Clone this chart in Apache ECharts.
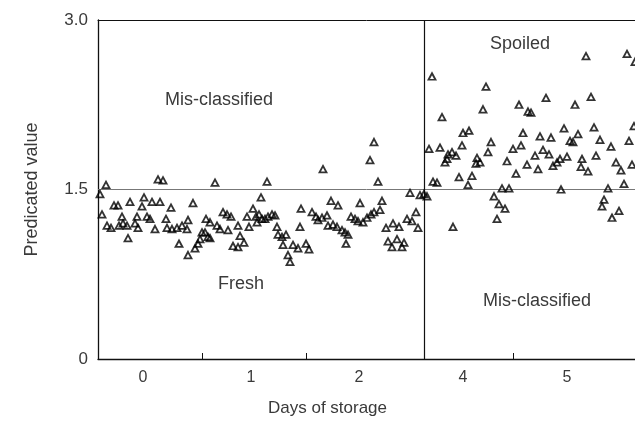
<!DOCTYPE html>
<html>
<head>
<meta charset="utf-8">
<script src="https://cdn.jsdelivr.net/npm/echarts@6/dist/echarts.min.js"></script>
<style>
html,body{margin:0;padding:0;background:#fff;}
#chart{width:635px;height:422px;}
</style>
</head>
<body>
<div id="chart"></div>
<script>
// Sample position along the storage sequence (x) and predicted value (y)
var freshSidePoints = [
[1,1.46],[4,1.54],[30,1.59],[32.5,1.58],[8,1.36],[10,1.36],[16,1.39],[23,1.43],[22,1.35],[27,1.39],[31,1.39],[36.5,1.34],[2,1.28],[12,1.26],[19.5,1.26],[24.5,1.26],[26,1.24],[34,1.24],[4.5,1.18],[6.5,1.16],[10.5,1.18],[12.5,1.20],[14.5,1.18],[18.5,1.20],[20,1.16],[28.5,1.15],[34.5,1.16],[37,1.15],[39.5,1.16],[42,1.18],[15,1.07],[40.5,1.02],[47.5,1.38],
[58.5,1.56],[84.5,1.57],[81.5,1.43],[45,1.23],[44.5,1.15],[54,1.24],[56,1.21],[59.5,1.18],[61,1.15],[65,1.14],[62.5,1.30],[64.5,1.28],[66.5,1.26],[70,1.18],[52,1.12],[53.5,1.12],[55,1.08],[56,1.07],[51,1.06],[50,1.02],[48.5,0.98],[45,0.92],[71,1.09],[73,1.03],[67.5,1.00],[70,0.99],[74.5,1.26],[75.5,1.17],[77.5,1.33],[79,1.26],[80.5,1.28],[82,1.24],[83.5,1.24],[85,1.26],[87,1.28],[79.5,1.21],
[112.5,1.68],[138,1.92],[136,1.76],[140,1.57],[88.5,1.27],[101.5,1.33],[107,1.30],[109,1.26],[110,1.23],[112,1.25],[114.5,1.27],[116.5,1.40],[120,1.36],[131,1.38],[126.5,1.26],[128.5,1.24],[130,1.22],[132.5,1.21],[134.5,1.25],[136.5,1.28],[138,1.30],[141,1.32],[142,1.40],[115,1.18],[117.5,1.19],[119.5,1.17],[122,1.14],[123.5,1.12],[125,1.10],[124,1.02],[101,1.17],[89.5,1.17],[90,1.10],[92,1.08],[94,1.10],[92.5,1.01],[97.5,1.01],[100,0.98],[104,1.02],[105.5,0.97],[95,0.92],[96,0.86],[144,1.16],[147.5,1.20],[150.5,1.17],[145,1.04],[147,0.99],[149.5,1.06],[152,0.99],[153,1.03],[154.5,1.24],[157,1.22],[159,1.30],[160,1.16],[156,1.47],[161,1.45],[163,1.46],[164.5,1.44]
];
var spoiledSidePoints = [
[167,2.50],[194,2.41],[192.5,2.21],[210.5,2.25],[215,2.19],[216.5,2.18],[172,2.14],[182.5,2.00],[185.5,2.02],[165.5,1.86],[171,1.87],[182,1.89],[196.5,1.92],[212.5,2.00],[207.5,1.86],[211.5,1.89],[175,1.81],[177,1.83],[179,1.80],[174.5,1.77],[173.5,1.74],[189.5,1.78],[189,1.73],[191,1.74],[195,1.83],[204.5,1.75],[214.5,1.72],[209,1.64],[167.5,1.57],[169.5,1.56],[180.5,1.61],[187,1.62],[185,1.54],[202,1.51],[205.5,1.51],[198,1.44],[200.5,1.37],[203.5,1.33],[199.5,1.24],[177.5,1.17],
[244,2.68],[264.5,2.70],[268.5,2.63],[224,2.31],[246.5,2.32],[238.5,2.25],[233,2.04],[240,1.99],[248,2.05],[268,2.06],[221,1.97],[226.5,1.96],[236,1.93],[237.5,1.92],[251,1.94],[256.5,1.88],[265.5,1.93],[218.5,1.80],[222.5,1.85],[225.5,1.81],[220,1.68],[227.5,1.71],[229.5,1.74],[231,1.77],[234.5,1.79],[242,1.77],[241.5,1.70],[245,1.66],[249,1.80],[259,1.74],[261.5,1.67],[267,1.72],[231.5,1.50],[255,1.51],[263,1.55],[253,1.41],[252,1.35],[260.5,1.31],[257,1.25]
];
var dayLabels = ['0','1','2','4','5'];
var dayLabelPositions = [22.5, 76.5, 130.5, 182.5, 234.5];
var dayBoundaryPositions = [52, 104, 163, 207.5];
var classThreshold = 1.5;
var freshSpoiledSplit = 163;
var yTicks = [0, 1.5, 3];

var chart = echarts.init(document.getElementById('chart'), null, {renderer:'canvas'});
var FONT = 'Liberation Sans, Arial, sans-serif';
var TXT = '#3a3a3a';

var symbolStyle = {
  color: 'rgba(255,255,255,0)',
  borderColor: '#000',
  borderWidth: 1.8
};

chart.setOption({
  animation: false,
  backgroundColor: '#fff',
  grid: {left: 98, top: 20, right: 0, bottom: 61, containLabel: false},
  xAxis: [{
    type: 'value', min: 0, max: 268.5,
    name: 'Days of storage', nameLocation: 'middle', nameGap: 41,
    nameTextStyle: {fontFamily: FONT, fontSize: 17, color: TXT, padding: [0, 78, 0, 0]},
    axisLine: {show: true, lineStyle: {color: '#111', width: 1.3}},
    axisTick: {show: true, inside: true, length: 6, customValues: dayBoundaryPositions, lineStyle: {color: '#111', width: 1}},
    axisLabel: {
      show: true, customValues: dayLabelPositions, margin: 11,
      fontFamily: FONT, fontSize: 16, color: TXT,
      formatter: function (v) {
        for (var i = 0; i < dayLabelPositions.length; i++) {
          if (Math.abs(dayLabelPositions[i] - v) < 0.01) return dayLabels[i];
        }
        return '';
      }
    },
    splitLine: {show: false}
  }, {
    type: 'value', min: 0, max: 268.5, position: 'top',
    axisLine: {show: true, lineStyle: {color: '#111', width: 1}},
    axisTick: {show: false}, axisLabel: {show: false}, splitLine: {show: false}
  }],
  yAxis: {
    type: 'value', min: 0, max: 3,
    name: 'Predicated value', nameLocation: 'middle', nameGap: 57,
    nameTextStyle: {fontFamily: FONT, fontSize: 18, color: TXT},
    axisLine: {show: true, lineStyle: {color: '#111', width: 1.3}},
    axisTick: {show: false},
    axisLabel: {
      customValues: yTicks, margin: 10, fontFamily: FONT, fontSize: 17, color: TXT,
      formatter: function (v) { return v === 0 ? '0' : v.toFixed(1); }
    },
    splitLine: {show: false}
  },
  series: [{
    type: 'scatter',
    data: freshSidePoints,
    symbol: 'triangle', symbolSize: [7, 6.5],
    itemStyle: symbolStyle,
    z: 5,
    markLine: {
      silent: true, symbol: ['none', 'none'], label: {show: false},
      data: [
        {yAxis: classThreshold, lineStyle: {color: '#777', width: 1, type: 'solid'}},
        {xAxis: freshSpoiledSplit, lineStyle: {color: '#111', width: 1.2, type: 'solid'}}
      ]
    }
  }, {
    type: 'scatter',
    data: spoiledSidePoints,
    symbol: 'triangle', symbolSize: [7, 6.5],
    itemStyle: symbolStyle,
    z: 5
  }],
  graphic: [
    {type: 'text', x: 219, y: 100, style: {text: 'Mis-classified', font: '18px ' + FONT, fill: TXT, textAlign: 'center', textVerticalAlign: 'middle'}},
    {type: 'text', x: 241, y: 284, style: {text: 'Fresh', font: '18px ' + FONT, fill: TXT, textAlign: 'center', textVerticalAlign: 'middle'}},
    {type: 'text', x: 520, y: 44, style: {text: 'Spoiled', font: '18px ' + FONT, fill: TXT, textAlign: 'center', textVerticalAlign: 'middle'}},
    {type: 'text', x: 537, y: 301, style: {text: 'Mis-classified', font: '18px ' + FONT, fill: TXT, textAlign: 'center', textVerticalAlign: 'middle'}}
  ]
});
</script>
</body>
</html>
